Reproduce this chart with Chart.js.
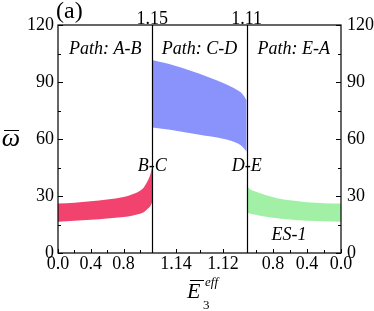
<!DOCTYPE html>
<html>
<head>
<meta charset="utf-8">
<script src="https://cdn.jsdelivr.net/npm/chart.js@4"></script>
<style>
html, body { margin: 0; padding: 0; background: #fff; }
</style>
</head>
<body>
<canvas id="rel1" width="374" height="311"></canvas>
<script>
// path A-B (panel 1)
var eAB = [0, 0.2, 0.4, 0.6, 0.8, 0.9, 1.0, 1.05, 1.1, 1.13, 1.15];
var upAB = [26, 26.5, 27.3, 28.2, 29.5, 30.8, 32.8, 34.8, 38.5, 42, 46];
var loAB = [16.5, 17, 17.5, 18.2, 19, 19.6, 20.6, 21.6, 23.5, 25, 27];
// path C-D (panel 2)
var eCD = [1.15, 1.145, 1.14, 1.135, 1.13, 1.125, 1.12, 1.117, 1.114, 1.112, 1.11];
var upCD = [101.6, 100.1, 98.4, 96.5, 94.3, 92, 89.5, 87.8, 85.8, 84, 80.5];
var loCD = [66, 65.2, 64.3, 63.3, 62.3, 61.3, 60.1, 59.2, 57.7, 56.2, 53.3];
// path E-A (panel 3)
var eEA = [1.11, 1.1, 1.08, 1.05, 1.0, 0.9, 0.75, 0.6, 0.4, 0.2, 0];
var upEA = [37, 35.2, 34, 33, 32.2, 30.6, 28.8, 27.7, 26.7, 26.2, 26];
var loEA = [21.8, 21.3, 20.9, 20.5, 20.1, 19.2, 18.3, 17.6, 17, 16.7, 16.5];

// tick labels on the bottom axis, per panel
var majorAB = [0, 0.4, 0.8], minorAB = [0.2, 0.6, 1.0];
var majorCD = [1.14, 1.12], minorCD = [1.13];
var majorEA = [0.8, 0.4, 0], minorEA = [1.0, 0.6, 0.2];
var labelsBottom = ['0.0', '0.4', '0.8', '1.14', '1.12', '0.8', '0.4', '0.0'];
var labelsTop = ['1.15', '1.11'];
var yMajor = [0, 30, 60, 90, 120], yMinor = [15, 45, 75, 105];

var serif = '"Liberation Serif", "Times New Roman", serif';

// each panel is one unit on the x scale
function toU(panel, e) {
    if (panel == 0) return e / 1.15;
    if (panel == 1) return 1 + (1.15 - e) / 0.04;
    return 2 + (1.11 - e) / 1.11;
}
function pts(panel, es, ys) {
    return es.map(function (e, i) { return {x: toU(panel, e), y: ys[i]}; });
}

var majorU = majorAB.map(function (e) { return toU(0, e); })
    .concat(majorCD.map(function (e) { return toU(1, e); }))
    .concat(majorEA.map(function (e) { return toU(2, e); }));
var minorU = minorAB.map(function (e) { return toU(0, e); })
    .concat(minorCD.map(function (e) { return toU(1, e); }))
    .concat(minorEA.map(function (e) { return toU(2, e); }));

Chart.defaults.font.family = serif;
Chart.defaults.color = '#000';

function band(label, data, color, fill) {
    return {
        label: label, data: data, fill: fill, backgroundColor: color,
        borderWidth: 0, pointRadius: 0, cubicInterpolationMode: 'monotone'
    };
}

var frame = {
    id: 'frame',
    afterDatasetsDraw: function (chart) {
        var ctx = chart.ctx, a = chart.chartArea;
        var x = chart.scales.x, y = chart.scales.y;
        ctx.save();
        ctx.strokeStyle = '#000';
        ctx.lineWidth = 1.2;
        ctx.strokeRect(a.left, a.top, a.right - a.left, a.bottom - a.top);
        [1, 2].forEach(function (u) {
            var px = Math.round(x.getPixelForValue(u)) + 0.5;
            ctx.beginPath(); ctx.moveTo(px, a.top); ctx.lineTo(px, a.bottom); ctx.stroke();
        });
        ctx.lineWidth = 1;
        ctx.beginPath();
        majorU.forEach(function (u) {
            var px = Math.round(x.getPixelForValue(u)) + 0.5;
            ctx.moveTo(px, a.bottom); ctx.lineTo(px, a.bottom - 4);
        });
        minorU.forEach(function (u) {
            var px = Math.round(x.getPixelForValue(u)) + 0.5;
            ctx.moveTo(px, a.bottom); ctx.lineTo(px, a.bottom - 3);
        });
        yMajor.forEach(function (v) {
            var py = Math.round(y.getPixelForValue(v)) + 0.5;
            ctx.moveTo(a.left, py); ctx.lineTo(a.left + 5, py);
            ctx.moveTo(a.right, py); ctx.lineTo(a.right - 5, py);
        });
        yMinor.forEach(function (v) {
            var py = Math.round(y.getPixelForValue(v)) + 0.5;
            ctx.moveTo(a.left, py); ctx.lineTo(a.left + 3, py);
            ctx.moveTo(a.right, py); ctx.lineTo(a.right - 3, py);
        });
        ctx.stroke();

        // texts
        ctx.fillStyle = '#000';
        ctx.textAlign = 'center';
        ctx.textBaseline = 'middle';
        ctx.font = 'italic 18px ' + serif;
        ctx.fillText('Path: A-B', x.getPixelForValue(0.5), 49);
        ctx.fillText('Path: C-D', x.getPixelForValue(1.5), 49);
        ctx.fillText('Path: E-A', x.getPixelForValue(2.5), 49);
        ctx.fillText('B-C', x.getPixelForValue(1), 166);
        ctx.fillText('D-E', x.getPixelForValue(2), 166);
        ctx.fillText('ES-1', 289, 235);

        ctx.textAlign = 'left';
        ctx.textBaseline = 'alphabetic';
        ctx.font = '24px ' + serif;
        ctx.fillText('(a)', 56, 18);

        // x title
        ctx.font = 'italic 22px ' + serif;
        ctx.fillText('E', 187, 298);
        ctx.font = '13px ' + serif;
        ctx.fillText('3', 203, 309);
        ctx.font = 'italic 13px ' + serif;
        ctx.fillText('eff', 205, 286);
        ctx.beginPath();
        ctx.moveTo(190, 280.5); ctx.lineTo(204, 280.5);
        ctx.stroke();

        // y title
        ctx.font = 'italic 26px ' + serif;
        ctx.textAlign = 'center';
        ctx.textBaseline = 'middle';
        ctx.fillText('ω', 11, 139);
        ctx.beginPath();
        ctx.moveTo(4, 130.5); ctx.lineTo(19, 130.5);
        ctx.stroke();
        ctx.restore();
    }
};

var tickFont = {family: serif, size: 18};

var rel1 = new Chart(document.getElementById('rel1'), {
    type: 'line',
    data: {
        datasets: [
            band('A-B upper', pts(0, eAB, upAB), '#f2426e', '+1'),
            band('A-B lower', pts(0, eAB, loAB), '#f2426e', false),
            band('C-D upper', pts(1, eCD, upCD), '#8a92fc', '+1'),
            band('C-D lower', pts(1, eCD, loCD), '#8a92fc', false),
            band('E-A upper', pts(2, eEA, upEA), '#a2f0a6', '+1'),
            band('E-A lower', pts(2, eEA, loEA), '#a2f0a6', false)
        ]
    },
    options: {
        responsive: false,
        animation: false,
        devicePixelRatio: 1,
        layout: {padding: 0},
        plugins: {legend: {display: false}, tooltip: {enabled: false}},
        scales: {
            x: {
                type: 'linear', position: 'bottom', min: 0, max: 3,
                grid: {display: false, drawTicks: false}, border: {display: false},
                afterBuildTicks: function (axis) {
                    axis.ticks = majorU.map(function (u) { return {value: u}; });
                },
                ticks: {
                    autoSkip: false, maxRotation: 0, padding: 0,
                    font: tickFont,
                    callback: function (v, i) { return labelsBottom[i]; }
                },
                afterFit: function (axis) { axis.height = 58; }
            },
            x2: {
                type: 'linear', position: 'top', min: 0, max: 3,
                grid: {display: false, drawTicks: false}, border: {display: false},
                afterBuildTicks: function (axis) {
                    axis.ticks = [{value: 1}, {value: 2}];
                },
                ticks: {
                    autoSkip: false, maxRotation: 0, padding: -5,
                    font: tickFont,
                    callback: function (v, i) { return labelsTop[i]; }
                },
                afterFit: function (axis) { axis.height = 25; }
            },
            y: {
                position: 'left', min: 0, max: 120,
                grid: {display: false, drawTicks: false}, border: {display: false},
                ticks: {stepSize: 30, padding: 4, font: tickFont},
                afterFit: function (axis) { axis.width = 58; }
            },
            y2: {
                position: 'right', min: 0, max: 120,
                grid: {display: false, drawTicks: false}, border: {display: false},
                ticks: {stepSize: 30, padding: 6, font: tickFont},
                afterFit: function (axis) { axis.width = 33; }
            }
        }
    },
    plugins: [frame]
});
</script>
</body>
</html>
